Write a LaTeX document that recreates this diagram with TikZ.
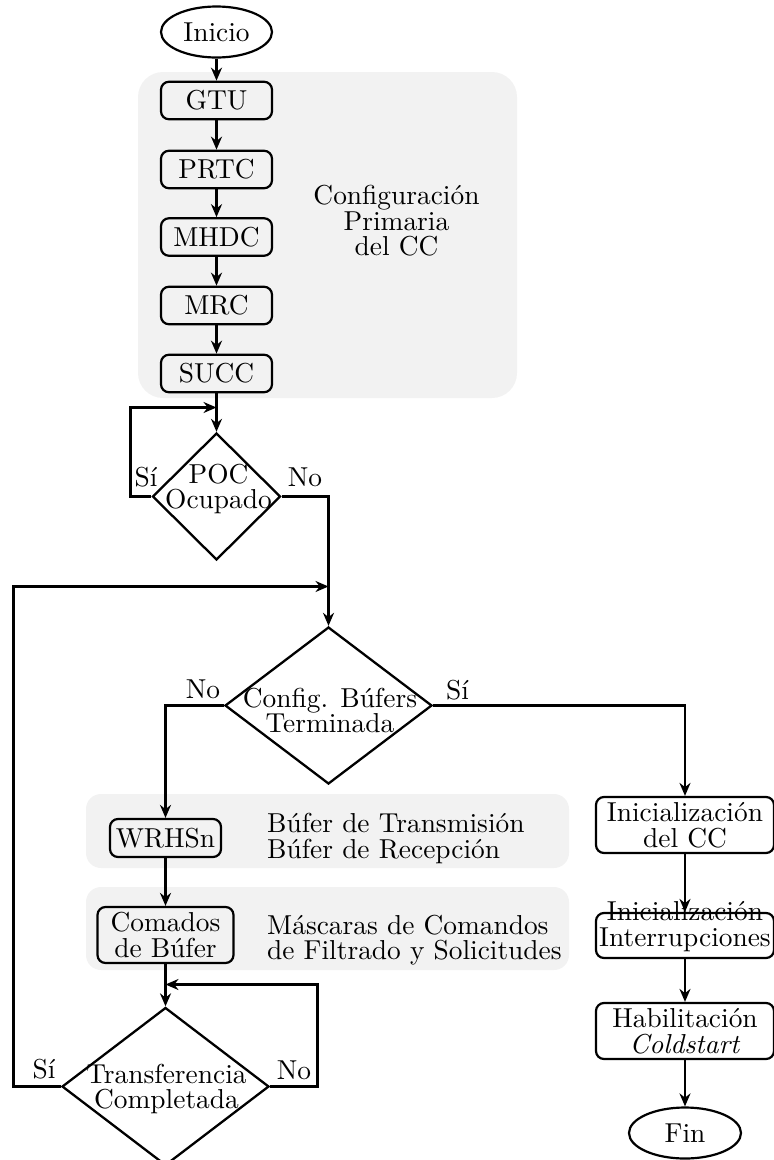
\documentclass[tikz,border=0pt]{standalone}
\usepackage{fontspec}
\setmainfont{lmroman10-regular.otf}[ItalicFont=lmroman10-italic.otf]
\usetikzlibrary{shapes.geometric,arrows.meta}
\definecolor{panel}{RGB}{242,242,242}
\begin{document}
\begin{tikzpicture}[x=1pt,y=-1pt,
  every node/.style={font=\fontsize{27.4}{25.5}\selectfont, inner sep=0pt},
  flow/.style={line width=2.3pt, -{Stealth[length=13pt,width=11pt]}},
  terminal/.style={draw, ellipse, line width=2.2pt, minimum width=#1, minimum height=51pt},
  proc/.style 2 args={draw, rectangle, rounded corners=8pt, line width=2.2pt,
                      minimum width=#1, minimum height=#2, align=center},
  decision/.style 2 args={draw, diamond, line width=2.3pt, minimum width=#1, minimum height=#2},
  txt/.style={align=center},
  lbl/.style={anchor=base}
]
\useasboundingbox (0,0) rectangle (774,1160);

% shaded groups
\fill[panel, rounded corners=25pt] (138,72) rectangle (517,398);
\fill[panel, rounded corners=15pt] (86,794) rectangle (569,868);
\fill[panel, rounded corners=15pt] (86,887) rectangle (569,970);

% primary configuration chain
\node[terminal=111pt] (inicio) at (216.5,32) {Inicio};
\node[proc={111pt}{37.5pt}] (gtu)  at (216.5,100.5) {GTU};
\node[proc={111pt}{37.5pt}] (prtc) at (216.5,169.5) {PRTC};
\node[proc={111pt}{37.5pt}] (mhdc) at (216.5,237) {MHDC};
\node[proc={111pt}{37.5pt}] (mrc)  at (216.5,305.5) {MRC};
\node[proc={111pt}{37.5pt}] (succ) at (216.5,373.5) {SUCC};
\node[txt] (cfgnote) at (396.5,221) {Configuración\\Primaria\\del CC};

% POC busy check
\node[decision={128pt}{127pt}] (poc) at (216.5,496.5) {};
\node[txt] (poct) at (218.5,489) {POC\\Ocupado};

% buffer configuration check
\node[decision={207pt}{157pt}] (cfg) at (328.5,705.5) {};
\node[txt] (cfgt) at (330,710.5) {Config. Búfers\\Terminada};

% buffer branch
\node[proc={111pt}{38pt}] (wrh) at (165.5,838) {WRHSn};
\node[anchor=west, align=left] (bufnote) at (267,838.5) {Búfer de Transmisión\\Búfer de Recepción};
\node[proc={136pt}{56pt}] (cmd) at (165.5,935) {Comados\\de Búfer};
\node[anchor=west, align=left] (masknote) at (267,940) {Máscaras de Comandos\\de Filtrado y Solicitudes};
\node[decision={207pt}{158pt}] (trf) at (165.5,1086.5) {};
\node[txt] (trft) at (166.5,1089) {Transferencia\\Completada};

% initialisation branch
\node[proc={178pt}{56pt}] (ini1) at (685,825) {Inicialización\\del CC};
\node[proc={178pt}{45pt}] (ini2) at (685,935.5) {};
\node[txt] (ini2t) at (685,926.5) {Inicialización\\Interrupciones};
\node[proc={178pt}{56pt}] (hab) at (685,1031) {Habilitación\\\textit{Coldstart}};
\node[terminal=112pt] (fin) at (685,1133) {Fin};

% junction points of the loops
\coordinate (j1) at (216.5,407.5);
\coordinate (k1) at (130.5,407.5);
\coordinate (j2) at (328.5,586.5);
\coordinate (k2) at (13.5,586.5);
\coordinate (j3) at (165.5,984.5);
\coordinate (k3) at (317.5,984.5);

% connectors
\draw[flow] (inicio) -- (gtu);
\draw[flow] (gtu) -- (prtc);
\draw[flow] (prtc) -- (mhdc);
\draw[flow] (mhdc) -- (mrc);
\draw[flow] (mrc) -- (succ);
\draw[flow] (succ) -- (poc);
\draw[flow] (poc.west) -| (k1) -- (j1);
\draw[flow] (poc.east) -| (cfg.north);
\draw[flow] (cfg.west) -| (wrh.north);
\draw[flow] (cfg.east) -| (ini1.north);
\draw[flow] (wrh) -- (cmd);
\draw[flow] (cmd) -- (trf);
\draw[flow] (trf.west) -| (k2) -- (j2);
\draw[flow] (trf.east) -| (k3) -- (j3);
\draw[flow] (ini1) -- (ini2);
\draw[flow] (ini2) -- (hab);
\draw[flow] (hab) -- (fin);

% branch labels
\node[lbl] (l1) at (146,486) {Sí};
\node[lbl] (l2) at (305,486) {No};
\node[lbl] (l3) at (203,698) {No};
\node[lbl] (l4) at (457.5,699) {Sí};
\node[lbl] (l5) at (44,1078) {Sí};
\node[lbl] (l6) at (294,1079) {No};
\end{tikzpicture}
\end{document}
